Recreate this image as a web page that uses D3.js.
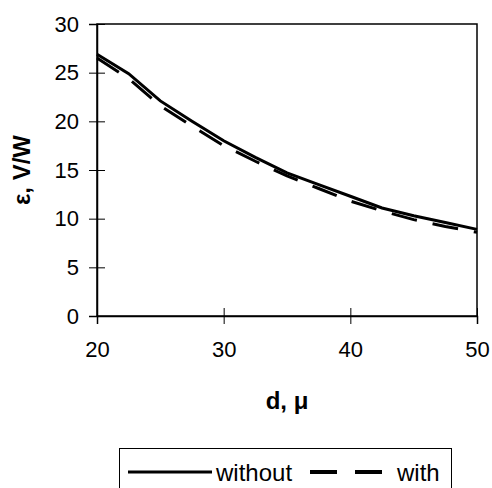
<!DOCTYPE html>
<html>
  <head>
    <meta charset="utf-8">
    <script src="https://d3js.org/d3.v7.min.js"></script>
    <style>
      body { margin:0; background:#fff; }
      svg { display:block; font-family: "Liberation Sans", Arial, sans-serif; }
    </style>
  </head>
  <body>
    <script>
    // thickness d (µm) and sensitivity values
    var thickness = [20, 22.5, 25, 27.5, 30, 32.5, 35, 37.5, 40, 42.5, 45, 47.5, 50];
    var without = [26.9, 24.9, 22.1, 20.0, 18.0, 16.3, 14.7, 13.5, 12.3, 11.1, 10.3, 9.6, 8.9];
    var withC   = [26.5, 24.4, 21.6, 19.5, 17.5, 15.9, 14.4, 13.1, 11.8, 10.8, 9.9, 9.2, 8.6];
    var xTicks = [20, 30, 40, 50];
    var yTicks = [0, 5, 10, 15, 20, 25, 30];

    var width = 492, height = 488;
    // plot area edges
    var pLeft = 97, pRight = 477, pTop = 24, pBottom = 316;

    var svg = d3.select("body").append("svg")
        .attr("width", width)
        .attr("height", height);

    var x = d3.scaleLinear().domain([20, 50]).range([pLeft, pRight]);
    var y = d3.scaleLinear().domain([0, 30]).range([pBottom, pTop]);

    // plot frame
    svg.append("rect")
      .attr("x", pLeft).attr("y", pTop)
      .attr("width", pRight - pLeft).attr("height", pBottom - pTop)
      .attr("fill", "none").attr("stroke", "#000").attr("stroke-width", 1.5);

    // axes: ticks crossing the frame line
    var yAxis = d3.axisLeft(y).tickValues(yTicks).tickSize(8).tickPadding(10);
    var gy = svg.append("g").attr("transform", "translate(" + pLeft + ",0)").call(yAxis);
    var xAxis = d3.axisBottom(x).tickValues(xTicks).tickSize(8).tickPadding(17);
    var gx = svg.append("g").attr("transform", "translate(0," + pBottom + ")").call(xAxis);

    [gx, gy].forEach(function(g) {
      g.select(".domain").attr("stroke", "#000").attr("stroke-width", 1.5);
      g.selectAll(".tick line").attr("stroke", "#000");
      g.selectAll(".tick text").attr("font-size", 22).attr("fill", "#000")
        .attr("font-family", "Liberation Sans, Arial, sans-serif");
    });
    gy.selectAll(".tick line").attr("x2", 8).attr("x1", -8);
    gx.selectAll(".tick line").attr("y1", -8).attr("y2", 8);

    // axis titles
    svg.append("text")
      .attr("x", (pLeft + pRight) / 2).attr("y", 409)
      .attr("text-anchor", "middle")
      .attr("font-size", 24).attr("font-weight", "bold")
      .text("d, \u03bc");

    svg.append("text")
      .attr("transform", "translate(30," + ((pTop + pBottom) / 2) + ") rotate(-90)")
      .attr("text-anchor", "middle")
      .attr("font-size", 24).attr("font-weight", "bold")
      .text("\u03b5, V/W");

    var line = d3.line().x(function(d) { return x(d[0]); }).y(function(d) { return y(d[1]); });

    svg.append("path")
      .datum(d3.zip(thickness, withC))
      .attr("d", line)
      .attr("fill", "none").attr("stroke", "#000")
      .attr("stroke-width", 3).attr("stroke-dasharray", "26,16");

    svg.append("path")
      .datum(d3.zip(thickness, without))
      .attr("d", line)
      .attr("fill", "none").attr("stroke", "#000")
      .attr("stroke-width", 3);

    // legend
    var lg = svg.append("g");
    lg.append("rect")
      .attr("x", 119.5).attr("y", 448.5).attr("width", 332).attr("height", 60)
      .attr("fill", "#fff").attr("stroke", "#000").attr("stroke-width", 1);
    lg.append("line").attr("x1", 128).attr("x2", 212).attr("y1", 472).attr("y2", 472)
      .attr("stroke", "#000").attr("stroke-width", 3);
    lg.append("text").attr("x", 216).attr("y", 481).attr("font-size", 24).text("without");
    lg.append("line").attr("x1", 310).attr("x2", 384).attr("y1", 472).attr("y2", 472)
      .attr("stroke", "#000").attr("stroke-width", 4).attr("stroke-dasharray", "27,18");
    lg.append("text").attr("x", 397).attr("y", 481).attr("font-size", 24).text("with");
    </script>
  </body>
</html>
